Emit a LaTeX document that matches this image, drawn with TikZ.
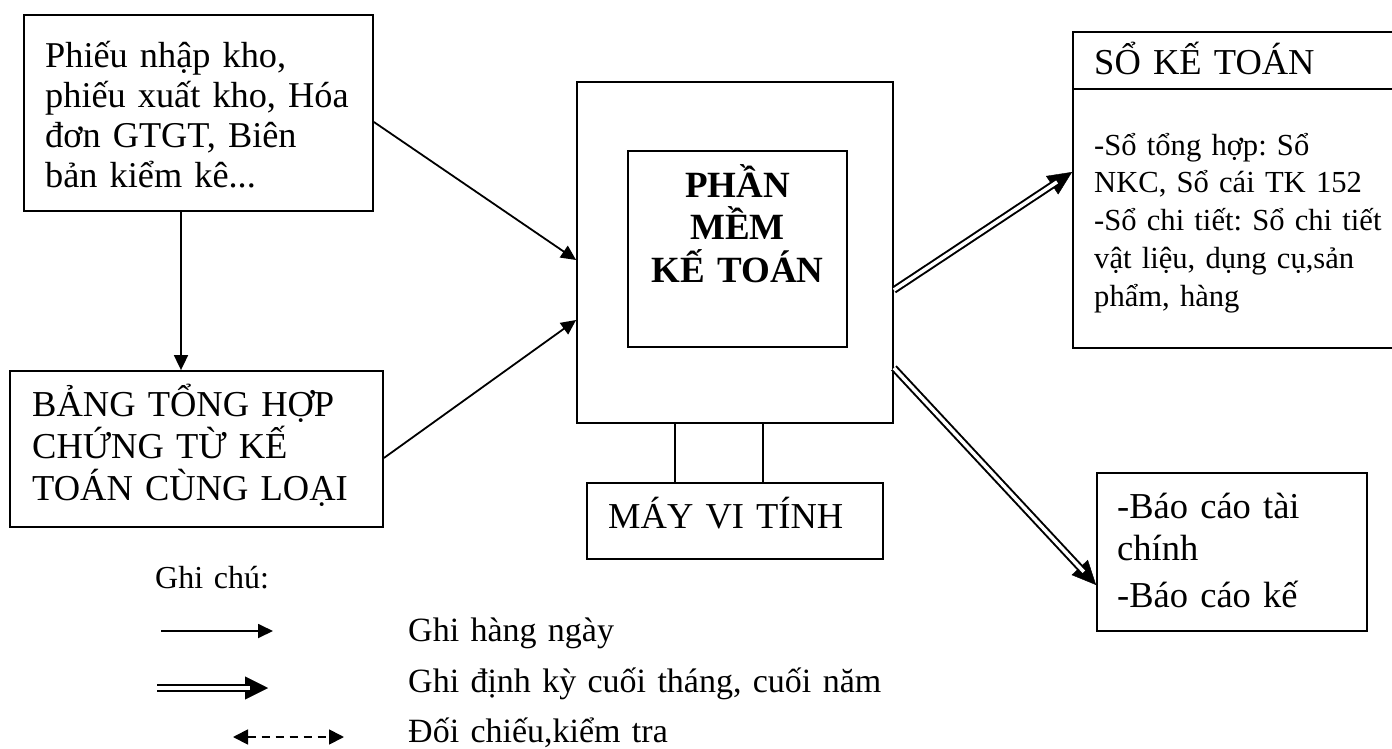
\documentclass[tikz,border=0pt]{standalone}
\usepackage{fontspec}
\setmainfont{Liberation Serif}
\usetikzlibrary{arrows.meta}
\frenchspacing
\begin{document}
\frenchspacing
\begin{tikzpicture}[x=1pt,y=-1pt]
\tikzset{
 box/.style={draw, line width=1.8pt, inner sep=0pt},
 txt/.style={inner sep=0pt, anchor=base west, align=left, text width=#1},
 arr/.style={line width=1.8pt, -{Triangle[length=15pt,width=14pt]}},
 dblline/.style={line width=2pt, double, double distance=3.5pt, shorten >=18pt},
 dbltip/.style={line width=0.4pt, -{Triangle[length=24pt,width=22pt]}},
 dbltipsmall/.style={line width=0.4pt, -{Triangle[length=23pt,width=23pt]}},
 dashedarr/.style={line width=1.8pt, dash pattern=on 8pt off 6pt, {Triangle[length=15pt,width=15pt]}-{Triangle[length=15pt,width=15pt]}},
}
\useasboundingbox (0,0) rectangle (1392,749);
\fill[white] (0,0) rectangle (1392,749);

% boxes
\node[box, minimum width=349pt, minimum height=196pt] (b1) at (198.5,113) {};
\node[box, minimum width=373pt, minimum height=156pt] (b2) at (196.5,449) {};
\node[box, minimum width=316pt, minimum height=341pt] (outer) at (735,252.5) {};
\node[box, minimum width=219pt, minimum height=196pt] (inner) at (737.5,249) {};
\node[box, minimum width=296pt, minimum height=76pt] (may) at (735,521) {};
\node[box, minimum width=327pt, minimum height=57pt] (skth) at (1236.5,60.5) {};
\node[box, minimum width=327pt, minimum height=259pt] (sktb) at (1236.5,218.5) {};
\node[box, minimum width=270pt, minimum height=158pt] (bc) at (1232,552) {};

% texts
\node[txt=450pt, font=\fontsize{36.3}{40}\selectfont] (t1) at (45,68)
 {Phiếu nhập kho,\\phiếu xuất kho, Hóa\\đơn GTGT, Biên\\bản kiểm kê...};
\node[txt=450pt, font=\fontsize{36.5}{42}\selectfont] (t2) at (32,416)
 {BẢNG TỔNG HỢP\\CHỨNG TỪ KẾ\\TOÁN CÙNG LOẠI};
\node[inner sep=0pt, anchor=base, align=center, text width=219pt,
 font=\bfseries\fontsize{37}{42.5}\selectfont] (tin) at (737.5,197)
 {PHẦN\\MỀM\\KẾ TOÁN};
\node[txt=400pt, font=\fontsize{36.5}{42}\selectfont] (tmay) at (608,528) {MÁY VI TÍNH};
\node[txt=400pt, font=\fontsize{36.5}{42}\selectfont] (tskth) at (1094,75) {SỔ KẾ TOÁN};
\node[txt=450pt, font=\fontsize{30.6}{37.8}\selectfont] (tsktb) at (1094,155)
 {-Sổ tổng hợp: Sổ\\NKC, Sổ cái TK 152\\-Sổ chi tiết: Sổ chi tiết\\vật liệu, dụng cụ,sản\\phẩm, hàng};
\node[txt=400pt, font=\fontsize{36.5}{42}\selectfont] (tbc) at (1117,518)
 {-Báo cáo tài\\chính\\[5pt]-Báo cáo kế};

% connectors
\draw[arr] ([xshift=-17.5pt]b1.south) -- ([xshift=-15.5pt]b2.north);
\draw[arr] ([yshift=-9pt]b1.east) -- ([yshift=-7.5pt]outer.west);
\draw[arr] ([yshift=-9pt]b2.east) -- ([yshift=-67.5pt]outer.west);
\draw[line width=1.8pt] ([xshift=-60pt]outer.south) -- ([xshift=-60pt]may.north);
\draw[line width=1.8pt] ([xshift=28pt]outer.south) -- ([xshift=28pt]may.north);

\draw[dbltip] ([yshift=-37.5pt]outer.east) -- ([yshift=46.5pt]sktb.west);
\draw[dblline] ([yshift=-37.5pt]outer.east) -- ([yshift=46.5pt]sktb.west);
\draw[dbltip] ([yshift=-115.5pt]outer.east) -- ([yshift=-33pt]bc.west);
\draw[dblline] ([yshift=-115.5pt]outer.east) -- ([yshift=-33pt]bc.west);

% legend
\node[txt=150pt, font=\fontsize{32}{38}\selectfont] (gc) at (155,588) {Ghi chú:};
\coordinate (l1a) at (161,631); \coordinate (l1b) at (273,631);
\coordinate (l2a) at (157,688); \coordinate (l2b) at (268,688);
\coordinate (l3a) at (233,737); \coordinate (l3b) at (344,737);
\draw[arr] (l1a) -- (l1b);
\draw[dbltipsmall] (l2a) -- (l2b);
\draw[dblline] (l2a) -- (l2b);
\draw[dashedarr] (l3a) -- (l3b);
\node[txt=500pt, font=\fontsize{34}{40}\selectfont] (g1) at (408,641) {Ghi hàng ngày};
\node[txt=500pt, font=\fontsize{34}{40}\selectfont] (g2) at (408,692) {Ghi định kỳ cuối tháng, cuối năm};
\node[txt=500pt, font=\fontsize{34}{40}\selectfont] (g3) at (408,742) {Đối chiếu,kiểm tra};
\end{tikzpicture}
\end{document}
